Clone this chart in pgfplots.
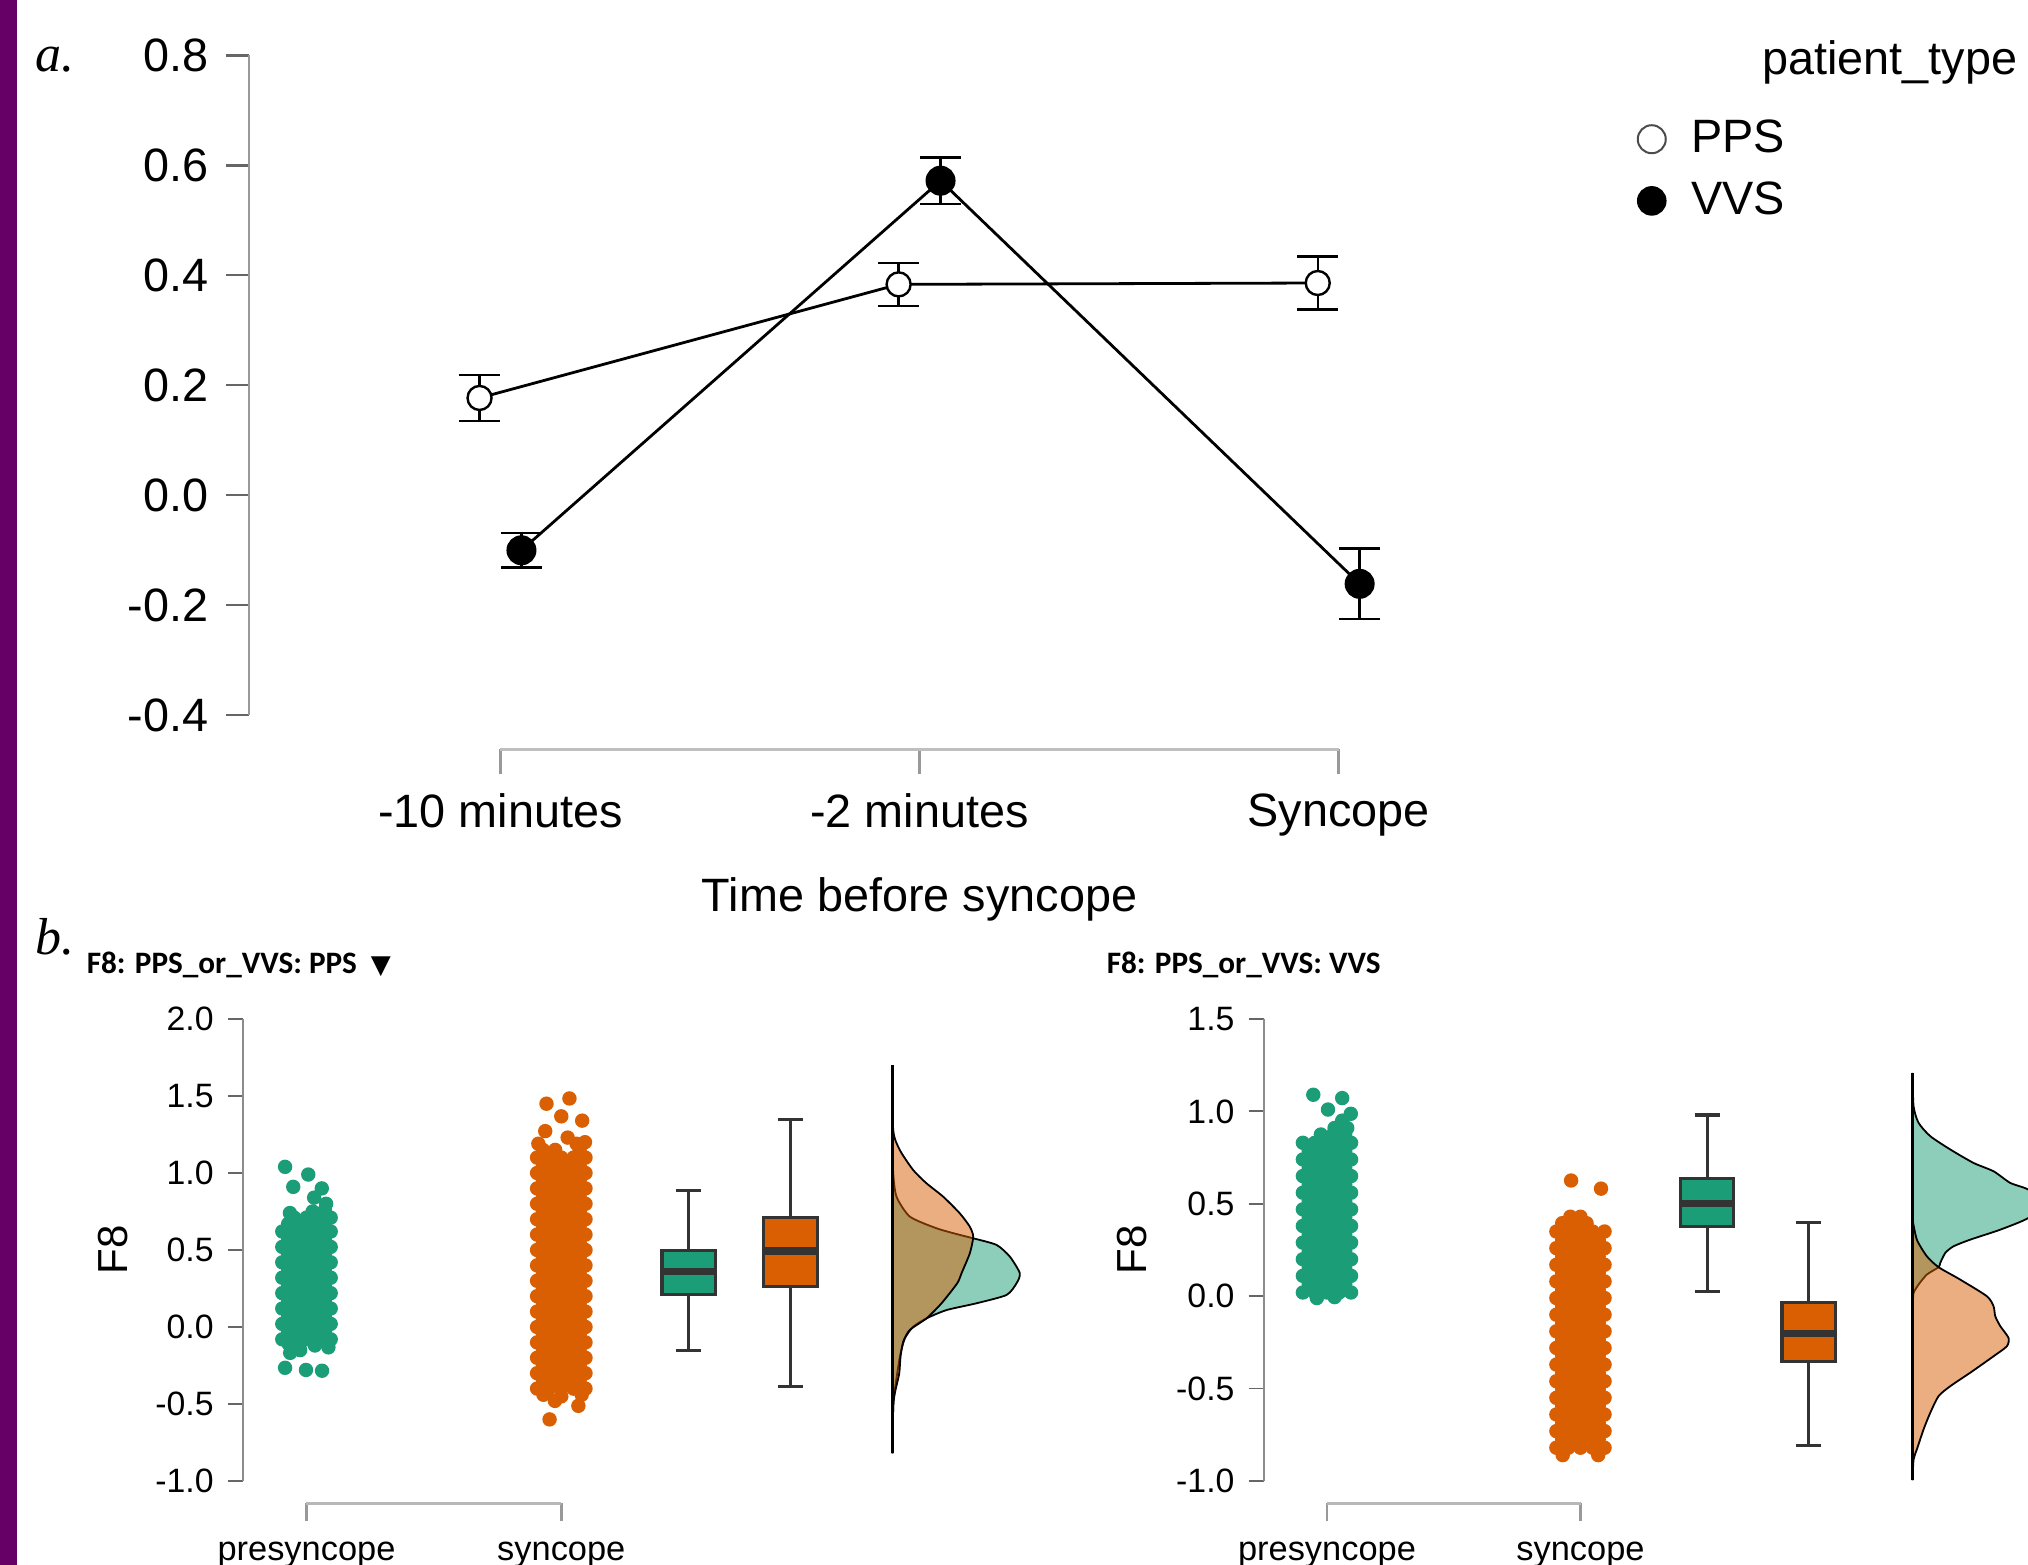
\documentclass[border=0pt]{standalone}
\usepackage{fontspec}
\setmainfont{Liberation Sans}
\newfontfamily\titlefont{Carlito}
\newfontfamily\serifit{Liberation Serif}
\newfontfamily\dejavu{DejaVu Sans}
\usepackage{pgfplots}
\pgfplotsset{compat=1.18}
\usepgfplotslibrary{statistics}
\definecolor{dgreen}{HTML}{1B9E77}
\definecolor{dorange}{HTML}{D95F02}
\definecolor{stripc}{RGB}{102,0,102}
\newcommand{\fa}{\fontsize{11.7}{14}\selectfont}
\newcommand{\fb}{\fontsize{8.45}{10}\selectfont}
\pgfplotsset{
  rainaxis/.style={anchor=south west, xmin=0.75, xmax=4, ymin=-1,
    axis x line=none, axis y line*=left, xtick=\empty,
    tick align=outside, major tick length=3.75pt,
    y axis line style={draw=black!45, line width=0.45pt},
    ytick style={draw=black!60, line width=0.45pt},
    yticklabel style={font=\fb},
    ylabel={F8}, ylabel style={font=\fontsize{10.5}{12}\selectfont, anchor=center},
    clip=false, boxplot/draw direction=y,
    boxplot/every median/.style={line width=1.8pt}},
  bracketaxis/.style={anchor=south west, ymin=0, ymax=1, y=1pt,
    axis y line=none, axis x line*=bottom, ytick=\empty,
    tick align=outside,
    x axis line style={draw=black!28, line width=0.65pt},
    xtick style={draw=black!40, line width=0.65pt}},
  cloud/.style={only marks, mark=*, mark size=1.6pt, forget plot},
  dens/.style={draw=black, line width=0.45pt, fill opacity=0.5, smooth, tension=0.4, forget plot},
  bx/.style={draw=black!80, line width=0.8pt, solid, forget plot}
}
\begin{document}
\begin{tikzpicture}
\fill[white] (0,0) rectangle (507pt,391.25pt);
\fill[stripc] (0,0) rectangle (4.25pt,391.25pt);

% ---------------- panel a ----------------
\begin{axis}[at={(62.26pt,212.425pt)}, anchor=south west,
  x=104.775pt, y=137.5pt,
  xmin=-0.6, xmax=3.6, ymin=-0.4, ymax=0.8,
  axis x line=none, axis y line*=left, xtick=\empty,
  ytick={-0.4,-0.2,0,0.2,0.4,0.6,0.8},
  yticklabels={-0.4,-0.2,0.0,0.2,0.4,0.6,0.8},
  tick align=outside, major tick length=5.8pt,
  y axis line style={draw=black!40, line width=0.6pt},
  ytick style={draw=black!60, line width=0.6pt},
  yticklabel style={font=\fa, xshift=-0.8pt},
  clip=false,
  legend style={at={(0.7885,0.9155)}, anchor=north west, draw=none, fill=none,
    inner xsep=0pt, inner ysep=0pt, row sep=1.75pt, font=\fa,
    nodes={inner sep=2pt, text depth=0.15em}},
  legend cell align=left,
  legend image code/.code={\draw[#1] plot coordinates {(0pt,0pt)}; \path[draw=none,fill=none] (-3.5pt,-3.5pt) rectangle (7.9pt,3.5pt);}]
\addlegendimage{only marks, mark=*, mark size=3.5pt, mark options={fill=white, draw=black!70, line width=0.5pt}}
\addlegendentry{PPS}
\addlegendimage{only marks, mark=*, mark size=3.5pt, mark options={fill=black, draw=black}}
\addlegendentry{VVS}
\addplot[forget plot, black, line width=0.7pt, mark=*, mark size=3.4pt,
  mark options={fill=black, draw=black, solid},
  error bars/.cd, y dir=both, y explicit,
  error bar style={line width=0.6pt, black},
  error mark options={rotate=90, mark size=5.1pt, line width=0.6pt}]
  coordinates {(0.05,-0.100) +- (0,0.031) (1.05,0.572) +- (0,0.042) (2.05,-0.161) +- (0,0.064)};
\addplot[forget plot, black, line width=0.7pt, mark=*, mark size=3pt,
  mark options={fill=white, draw=black, line width=0.6pt, solid},
  error bars/.cd, y dir=both, y explicit,
  error bar style={line width=0.6pt, black},
  error mark options={rotate=90, mark size=5.1pt, line width=0.6pt}]
  coordinates {(-0.05,0.177) +- (0,0.042) (0.95,0.3835) +- (0,0.039) (1.95,0.386) +- (0,0.048)};
\end{axis}

\begin{axis}[bracketaxis, at={(125.125pt,203.875pt)},
  x=104.775pt, xmin=0, xmax=2,
  xtick={0,1,2}, xticklabels={-10 minutes,-2 minutes,Syncope},
  major tick length=6.2pt,
  x axis line style={draw=black!25, line width=0.9pt},
  xticklabel style={font=\fa, yshift=-1.3pt},
  xlabel={Time before syncope},
  xlabel style={font=\fa, at={(axis description cs:0.5,0)}, anchor=center, yshift=-37.4pt}]
\addplot[draw=none, forget plot] coordinates {(0,0)};
\end{axis}

\node[anchor=base west, inner sep=0pt, font=\serifit\itshape\fontsize{13}{15}\selectfont] at (8.7pt,373.3pt) {a.};
\node[anchor=base west, inner sep=0pt, font=\fa] at (440.4pt,372.5pt) {patient\_type};

% ---------------- panel b, left ----------------
\node[anchor=base west, inner sep=0pt, font=\serifit\itshape\fontsize{13}{15}\selectfont] at (8.75pt,152.5pt) {b.};
\node[anchor=base west, inner sep=0pt] at (21.5pt,147.9pt)
  {\titlefont\bfseries\fontsize{7.8}{9}\selectfont F8: PPS\_or\_VVS: PPS\hspace{3.5pt}{\dejavu\fontsize{6.5}{8}\selectfont ▼}};
\node[anchor=base west, inner sep=0pt] at (276.5pt,147.9pt)
  {\titlefont\bfseries\fontsize{7.8}{9}\selectfont F8: PPS\_or\_VVS: VVS};

\begin{axis}[rainaxis, at={(60.7pt,21pt)}, x=63.7pt, y=38.5pt, ymax=2,
  ytick={-1,-0.5,0,0.5,1,1.5,2},
  yticklabels={-1.0,-0.5,0.0,0.5,1.0,1.5,2.0},
  ylabel style={at={(axis description cs:-0.157,0.5)}}]
% jittered points, presyncope
\addplot[cloud, dgreen] coordinates {
(0.905,-0.08)(0.952,-0.08)(1,-0.08)(1.048,-0.08)(1.095,-0.08)
(0.928,-0.03)(0.976,-0.03)(1.024,-0.03)(1.072,-0.03)
(0.905,0.02)(0.952,0.02)(1,0.02)(1.048,0.02)(1.095,0.02)
(0.928,0.07)(0.976,0.07)(1.024,0.07)(1.072,0.07)
(0.905,0.12)(0.952,0.12)(1,0.12)(1.048,0.12)(1.095,0.12)
(0.928,0.17)(0.976,0.17)(1.024,0.17)(1.072,0.17)
(0.905,0.22)(0.952,0.22)(1,0.22)(1.048,0.22)(1.095,0.22)
(0.928,0.27)(0.976,0.27)(1.024,0.27)(1.072,0.27)
(0.905,0.32)(0.952,0.32)(1,0.32)(1.048,0.32)(1.095,0.32)
(0.928,0.37)(0.976,0.37)(1.024,0.37)(1.072,0.37)
(0.905,0.42)(0.952,0.42)(1,0.42)(1.048,0.42)(1.095,0.42)
(0.928,0.47)(0.976,0.47)(1.024,0.47)(1.072,0.47)
(0.905,0.52)(0.952,0.52)(1,0.52)(1.048,0.52)(1.095,0.52)
(0.928,0.57)(0.976,0.57)(1.024,0.57)(1.072,0.57)
(0.905,0.62)(0.952,0.62)(1,0.62)(1.048,0.62)(1.095,0.62)
(0.928,0.67)(0.976,0.67)(1.024,0.67)(1.072,0.67)
(0.952,0.71)(1,0.71)(1.048,0.71)(1.095,0.71)
(0.935,0.74)(1.024,0.75)(1.072,0.76)(1.077,0.80)(1.03,0.84)
(1.06,0.90)(0.948,0.91)(1.007,0.99)(0.916,1.04)
(0.93,-0.11)(1.033,-0.12)(1.086,-0.132)(0.975,-0.15)(0.936,-0.168)
(0.916,-0.265)(0.998,-0.279)(1.061,-0.284)};
% jittered points, syncope
\addplot[cloud, dorange] coordinates {
(1.905,-0.40)(1.952,-0.40)(2,-0.40)(2.048,-0.40)(2.095,-0.40)
(1.928,-0.35)(1.976,-0.35)(2.024,-0.35)(2.072,-0.35)
(1.905,-0.30)(1.952,-0.30)(2,-0.30)(2.048,-0.30)(2.095,-0.30)
(1.928,-0.25)(1.976,-0.25)(2.024,-0.25)(2.072,-0.25)
(1.905,-0.20)(1.952,-0.20)(2,-0.20)(2.048,-0.20)(2.095,-0.20)
(1.928,-0.15)(1.976,-0.15)(2.024,-0.15)(2.072,-0.15)
(1.905,-0.10)(1.952,-0.10)(2,-0.10)(2.048,-0.10)(2.095,-0.10)
(1.928,-0.05)(1.976,-0.05)(2.024,-0.05)(2.072,-0.05)
(1.905,0.00)(1.952,0.00)(2,0.00)(2.048,0.00)(2.095,0.00)
(1.928,0.05)(1.976,0.05)(2.024,0.05)(2.072,0.05)
(1.905,0.10)(1.952,0.10)(2,0.10)(2.048,0.10)(2.095,0.10)
(1.928,0.15)(1.976,0.15)(2.024,0.15)(2.072,0.15)
(1.905,0.20)(1.952,0.20)(2,0.20)(2.048,0.20)(2.095,0.20)
(1.928,0.25)(1.976,0.25)(2.024,0.25)(2.072,0.25)
(1.905,0.30)(1.952,0.30)(2,0.30)(2.048,0.30)(2.095,0.30)
(1.928,0.35)(1.976,0.35)(2.024,0.35)(2.072,0.35)
(1.905,0.40)(1.952,0.40)(2,0.40)(2.048,0.40)(2.095,0.40)
(1.928,0.45)(1.976,0.45)(2.024,0.45)(2.072,0.45)
(1.905,0.50)(1.952,0.50)(2,0.50)(2.048,0.50)(2.095,0.50)
(1.928,0.55)(1.976,0.55)(2.024,0.55)(2.072,0.55)
(1.905,0.60)(1.952,0.60)(2,0.60)(2.048,0.60)(2.095,0.60)
(1.928,0.65)(1.976,0.65)(2.024,0.65)(2.072,0.65)
(1.905,0.70)(1.952,0.70)(2,0.70)(2.048,0.70)(2.095,0.70)
(1.928,0.75)(1.976,0.75)(2.024,0.75)(2.072,0.75)
(1.905,0.80)(1.952,0.80)(2,0.80)(2.048,0.80)(2.095,0.80)
(1.928,0.85)(1.976,0.85)(2.024,0.85)(2.072,0.85)
(1.905,0.90)(1.952,0.90)(2,0.90)(2.048,0.90)(2.095,0.90)
(1.928,0.95)(1.976,0.95)(2.024,0.95)(2.072,0.95)
(1.905,1.00)(1.952,1.00)(2,1.00)(2.048,1.00)(2.095,1.00)
(1.928,1.05)(1.976,1.05)(2.024,1.05)(2.072,1.05)
(1.905,1.10)(1.952,1.10)(2,1.10)(2.048,1.10)(2.095,1.10)
(1.928,1.15)(1.976,1.15)(2.072,1.15)(1.91,1.19)(2.06,1.19)
(1.937,1.272)(2.025,1.23)(2.093,1.2)(2.082,1.34)(2.0,1.368)(1.942,1.45)(2.032,1.484)
(1.93,-0.44)(2.0,-0.45)(2.08,-0.44)(1.975,-0.48)(2.067,-0.512)(1.954,-0.60)};
% box plots
\addplot[bx, fill=dgreen, boxplot prepared={draw position=2.5, lower whisker=-0.155,
  lower quartile=0.212, median=0.358, upper quartile=0.498, upper whisker=0.886,
  box extend=0.21, whisker extend=0.1}] coordinates {};
\addplot[bx, fill=dorange, boxplot prepared={draw position=2.9, lower whisker=-0.388,
  lower quartile=0.261, median=0.493, upper quartile=0.713, upper whisker=1.346,
  box extend=0.21, whisker extend=0.1}] coordinates {};
% densities
\addplot[dens, fill=dgreen] coordinates {
(3.3,-0.82)(3.3027,-0.517)(3.309,-0.409)(3.3287,-0.193)(3.3483,-0.074)(3.3812,0.002)
(3.4334,0.056)(3.5119,0.110)(3.6297,0.154)(3.7474,0.208)(3.7867,0.284)(3.7996,0.349)
(3.7604,0.457)(3.7082,0.533)(3.6167,0.576)(3.5641,0.598)(3.4727,0.641)(3.3679,0.717)
(3.3157,0.846)(3.3027,0.998)(3.3008,1.2)(3.3,1.5)};
\addplot[dens, fill=dorange] coordinates {
(3.3,-0.82)(3.3027,-0.517)(3.309,-0.430)(3.3263,-0.301)(3.3314,-0.193)(3.342,-0.095)
(3.3679,-0.019)(3.4334,0.056)(3.4923,0.154)(3.5539,0.284)(3.5708,0.349)(3.6034,0.479)
(3.6167,0.586)(3.6034,0.651)(3.5641,0.738)(3.499,0.846)(3.4334,0.933)(3.3812,1.019)
(3.3287,1.149)(3.3027,1.279)(3.3,1.70)};
\addplot[forget plot, black, line width=0.6pt] coordinates {(3.3,-0.82)(3.3,1.70)};
\end{axis}

\begin{axis}[bracketaxis, at={(76.625pt,15.375pt)}, x=63.7pt, xmin=1, xmax=2,
  xtick={1,2}, xticklabels={presyncope,syncope}, major tick length=4.4pt,
  xticklabel style={font=\fontsize{8.6}{10}\selectfont, yshift=-1.6pt}]
\addplot[draw=none, forget plot] coordinates {(1,0)};
\end{axis}

% ---------------- panel b, right ----------------
\begin{axis}[rainaxis, at={(315.9pt,21pt)}, x=63.375pt, y=46.2pt, ymax=1.5,
  ytick={-1,-0.5,0,0.5,1,1.5},
  yticklabels={-1.0,-0.5,0.0,0.5,1.0,1.5},
  ylabel style={at={(axis description cs:-0.160,0.5)}}]
\addplot[cloud, dgreen] coordinates {
(0.905,0.02)(0.952,0.02)(1,0.02)(1.048,0.02)(1.095,0.02)
(0.928,0.065)(0.976,0.065)(1.024,0.065)(1.072,0.065)
(0.905,0.11)(0.952,0.11)(1,0.11)(1.048,0.11)(1.095,0.11)
(0.928,0.155)(0.976,0.155)(1.024,0.155)(1.072,0.155)
(0.905,0.20)(0.952,0.20)(1,0.20)(1.048,0.20)(1.095,0.20)
(0.928,0.245)(0.976,0.245)(1.024,0.245)(1.072,0.245)
(0.905,0.29)(0.952,0.29)(1,0.29)(1.048,0.29)(1.095,0.29)
(0.928,0.335)(0.976,0.335)(1.024,0.335)(1.072,0.335)
(0.905,0.38)(0.952,0.38)(1,0.38)(1.048,0.38)(1.095,0.38)
(0.928,0.425)(0.976,0.425)(1.024,0.425)(1.072,0.425)
(0.905,0.47)(0.952,0.47)(1,0.47)(1.048,0.47)(1.095,0.47)
(0.928,0.515)(0.976,0.515)(1.024,0.515)(1.072,0.515)
(0.905,0.56)(0.952,0.56)(1,0.56)(1.048,0.56)(1.095,0.56)
(0.928,0.605)(0.976,0.605)(1.024,0.605)(1.072,0.605)
(0.905,0.65)(0.952,0.65)(1,0.65)(1.048,0.65)(1.095,0.65)
(0.928,0.695)(0.976,0.695)(1.024,0.695)(1.072,0.695)
(0.905,0.74)(0.952,0.74)(1,0.74)(1.048,0.74)(1.095,0.74)
(0.928,0.785)(0.976,0.785)(1.024,0.785)(1.072,0.785)
(0.905,0.83)(0.952,0.83)(1,0.83)(1.048,0.83)(1.095,0.83)
(0.976,0.875)(1.024,0.875)(1.072,0.875)(1.03,0.91)(1.08,0.91)(1.06,0.95)
(1.094,0.987)(1.004,1.01)(1.06,1.072)(0.946,1.09)
(0.96,-0.01)(1.03,-0.005)};
\addplot[cloud, dorange] coordinates {
(1.905,-0.82)(1.952,-0.82)(2,-0.82)(2.048,-0.82)(2.095,-0.82)
(1.928,-0.775)(1.976,-0.775)(2.024,-0.775)(2.072,-0.775)
(1.905,-0.73)(1.952,-0.73)(2,-0.73)(2.048,-0.73)(2.095,-0.73)
(1.928,-0.685)(1.976,-0.685)(2.024,-0.685)(2.072,-0.685)
(1.905,-0.64)(1.952,-0.64)(2,-0.64)(2.048,-0.64)(2.095,-0.64)
(1.928,-0.595)(1.976,-0.595)(2.024,-0.595)(2.072,-0.595)
(1.905,-0.55)(1.952,-0.55)(2,-0.55)(2.048,-0.55)(2.095,-0.55)
(1.928,-0.505)(1.976,-0.505)(2.024,-0.505)(2.072,-0.505)
(1.905,-0.46)(1.952,-0.46)(2,-0.46)(2.048,-0.46)(2.095,-0.46)
(1.928,-0.415)(1.976,-0.415)(2.024,-0.415)(2.072,-0.415)
(1.905,-0.37)(1.952,-0.37)(2,-0.37)(2.048,-0.37)(2.095,-0.37)
(1.928,-0.325)(1.976,-0.325)(2.024,-0.325)(2.072,-0.325)
(1.905,-0.28)(1.952,-0.28)(2,-0.28)(2.048,-0.28)(2.095,-0.28)
(1.928,-0.235)(1.976,-0.235)(2.024,-0.235)(2.072,-0.235)
(1.905,-0.19)(1.952,-0.19)(2,-0.19)(2.048,-0.19)(2.095,-0.19)
(1.928,-0.145)(1.976,-0.145)(2.024,-0.145)(2.072,-0.145)
(1.905,-0.10)(1.952,-0.10)(2,-0.10)(2.048,-0.10)(2.095,-0.10)
(1.928,-0.055)(1.976,-0.055)(2.024,-0.055)(2.072,-0.055)
(1.905,-0.01)(1.952,-0.01)(2,-0.01)(2.048,-0.01)(2.095,-0.01)
(1.928,0.035)(1.976,0.035)(2.024,0.035)(2.072,0.035)
(1.905,0.08)(1.952,0.08)(2,0.08)(2.048,0.08)(2.095,0.08)
(1.928,0.125)(1.976,0.125)(2.024,0.125)(2.072,0.125)
(1.905,0.17)(1.952,0.17)(2,0.17)(2.048,0.17)(2.095,0.17)
(1.928,0.215)(1.976,0.215)(2.024,0.215)(2.072,0.215)
(1.905,0.26)(1.952,0.26)(2,0.26)(2.048,0.26)(2.095,0.26)
(1.928,0.305)(1.976,0.305)(2.024,0.305)(2.072,0.305)
(1.905,0.35)(1.952,0.35)(2,0.35)(2.048,0.35)(2.095,0.35)
(1.928,0.395)(1.976,0.395)(2.024,0.395)(1.96,0.43)(2.0,0.43)
(1.963,0.626)(2.081,0.582)(1.93,-0.86)(2.07,-0.86)};
\addplot[bx, fill=dgreen, boxplot prepared={draw position=2.5, lower whisker=0.027,
  lower quartile=0.378, median=0.503, upper quartile=0.635, upper whisker=0.981,
  box extend=0.21, whisker extend=0.1}] coordinates {};
\addplot[bx, fill=dorange, boxplot prepared={draw position=2.9, lower whisker=-0.807,
  lower quartile=-0.352, median=-0.204, upper quartile=-0.036, upper whisker=0.40,
  box extend=0.21, whisker extend=0.1}] coordinates {};
\addplot[dens, fill=dgreen] coordinates {
(3.31,-0.10)(3.312,-0.018)(3.314,0.018)(3.3337,0.063)(3.3664,0.117)(3.4126,0.157)
(3.4193,0.180)(3.439,0.234)(3.4717,0.270)(3.5376,0.306)(3.656,0.360)(3.7664,0.423)
(3.8228,0.505)(3.7664,0.577)(3.6954,0.613)(3.6295,0.676)(3.5506,0.721)(3.4587,0.794)
(3.3798,0.866)(3.3337,0.938)(3.314,1.028)(3.31,1.208)};
\addplot[dens, fill=dorange] coordinates {
(3.31,-0.996)(3.314,-0.884)(3.327,-0.829)(3.3534,-0.721)(3.3798,-0.631)(3.4126,-0.541)
(3.4587,-0.487)(3.5376,-0.414)(3.6295,-0.325)(3.682,-0.271)(3.6887,-0.226)(3.656,-0.162)
(3.6362,-0.108)(3.6295,-0.054)(3.6031,0.0)(3.4982,0.0897)(3.4126,0.157)(3.3664,0.216)
(3.327,0.306)(3.31,0.4145)};
\addplot[forget plot, black, line width=0.6pt] coordinates {(3.31,-0.996)(3.31,1.208)};
\end{axis}

\begin{axis}[bracketaxis, at={(331.75pt,15.375pt)}, x=63.375pt, xmin=1, xmax=2,
  xtick={1,2}, xticklabels={presyncope,syncope}, major tick length=4.4pt,
  xticklabel style={font=\fontsize{8.6}{10}\selectfont, yshift=-1.6pt}]
\addplot[draw=none, forget plot] coordinates {(1,0)};
\end{axis}

\pgfresetboundingbox
\path[use as bounding box] (0,0) rectangle (507pt,391.25pt);
\end{tikzpicture}
\end{document}
